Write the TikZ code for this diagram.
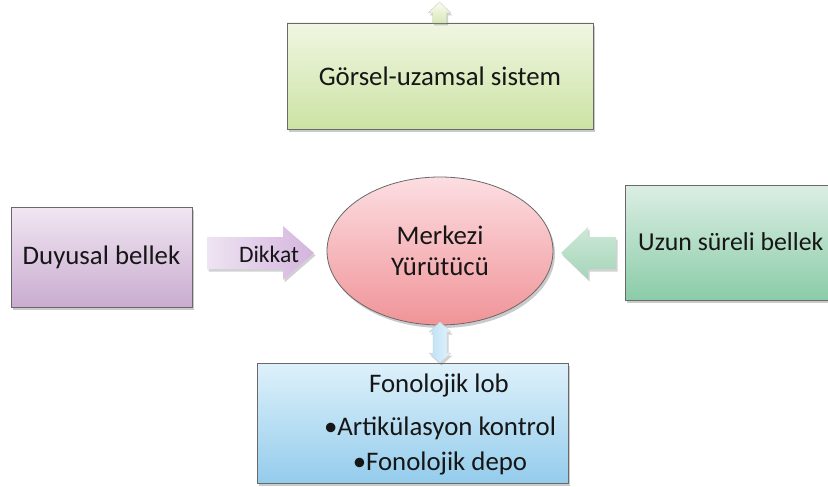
\documentclass[tikz,border=0pt]{standalone}
\usepackage{fontspec}
\setmainfont{Carlito}
\usetikzlibrary{shadows,shapes.geometric}
\definecolor{bordergray}{RGB}{105,105,105}
\definecolor{txt}{RGB}{22,22,22}
\tikzset{
  bigfont/.style={font=\fontsize{26.8}{31}\selectfont},
  boxbase/.style={draw=bordergray, line width=0.8pt, text=txt, bigfont,
    drop shadow={shadow xshift=2pt, shadow yshift=-3pt, opacity=0.35, fill=black!60}},
  arrowbase/.style={draw=none, drop shadow={shadow xshift=1.5pt, shadow yshift=-2.5pt, opacity=0.3, fill=black!60}},
  lbl/.style={text=txt, bigfont},
}
\begin{document}
\begin{tikzpicture}[x=1pt,y=-1pt]
\useasboundingbox (0,0) rectangle (828,487);
% boxes
\node[boxbase, minimum width=306, minimum height=106, top color={rgb,255:red,240;green,246;blue,226}, bottom color={rgb,255:red,204;green,227;blue,164}] (vis) at (440,76) {Görsel-uzamsal sistem};
\node[boxbase, minimum width=181, minimum height=100, top color={rgb,255:red,241;green,230;blue,242}, bottom color={rgb,255:red,201;green,172;blue,208}] (duy) at (101.5,257) {Duyusal bellek};
\node[boxbase, minimum width=220, minimum height=115, top color={rgb,255:red,220;green,238;blue,228}, bottom color={rgb,255:red,138;green,204;blue,168}, anchor=west, inner sep=0pt] (uzun) at (625,242.5) {};
\node[text=txt, font=\fontsize{25.8}{30}\selectfont, anchor=west, inner sep=0pt] (uzuntxt) at (638,242) {Uzun süreli bellek};
\node[boxbase, ellipse, minimum width=226, minimum height=148, inner sep=0pt, top color={rgb,255:red,252;green,222;blue,226}, bottom color={rgb,255:red,240;green,148;blue,152}, align=center] (mer) at (440,251) {Merkezi\\Yürütücü};
\node[boxbase, minimum width=311, minimum height=120, top color={rgb,255:red,222;green,241;blue,251}, bottom color={rgb,255:red,148;green,204;blue,236}, align=center] (fon) at (412.5,423) {};
\node[lbl] (fon1) at (439,385) {Fonolojik lob};
\node[lbl] (fon2) at (440,428) {•Artikülasyon kontrol};
\node[lbl] (fon3) at (440,463) {•Fonolojik depo};
% arrows
% up arrow above visual box
\path[arrowbase, top color={rgb,255:red,250;green,252;blue,240}, bottom color={rgb,255:red,214;green,232;blue,180}, draw=bordergray!40, line width=0.3pt]
  (432.5,23) -- (432.5,13) -- (428,13) -- (439.5,2) -- (451,13) -- (446.5,13) -- (446.5,23) -- cycle;
% Dikkat arrow
\path[arrowbase, left color={rgb,255:red,238;green,228;blue,242}, right color={rgb,255:red,212;green,180;blue,222}]
  (207,237) -- (283,237) -- (283,226) -- (314,253) -- (283,280) -- (283,269) -- (207,269) -- cycle;
\node[text=txt, font=\fontsize{23.6}{28}\selectfont] (dik) at (269,254) {Dikkat};
% left arrow from Uzun
\path[arrowbase, top color={rgb,255:red,205;green,232;blue,215}, bottom color={rgb,255:red,165;green,213;blue,185}]
  (616,237) -- (588,237) -- (588,227) -- (561,253) -- (588,279) -- (588,269) -- (616,269) -- cycle;
% double arrow between center and fon
\path[arrowbase, left color={rgb,255:red,190;green,225;blue,245}, right color={rgb,255:red,225;green,242;blue,252}, draw=bordergray!30, line width=0.3pt]
  (440,322) -- (451,332) -- (447,332) -- (447,353) -- (451,353) -- (440,363) -- (429,353) -- (433,353) -- (433,332) -- (429,332) -- cycle;
\end{tikzpicture}
\end{document}
